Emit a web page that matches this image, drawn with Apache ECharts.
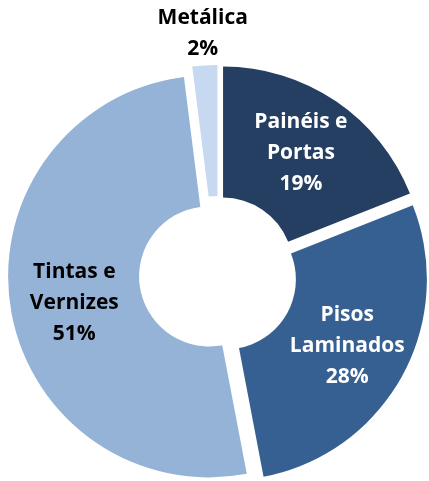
<!DOCTYPE html>
<html lang="pt">
<head>
    <meta charset="UTF-8">
    <title>Segmentos</title>
    <script src="https://cdn.jsdelivr.net/npm/echarts@6/dist/echarts.min.js"></script>
    <style>
        html, body { margin: 0; padding: 0; background: #fff; }
        #main { width: 429px; height: 481px; }
    </style>
</head>
<body>
    <div id="main"></div>
    <script>
        // dados
        var nomes = ['Painéis e\nPortas', 'Pisos\nLaminados', 'Tintas e\nVernizes', 'Metálica'];
        var valores = [19, 28, 51, 2];
        var cores = ['#253F62', '#376092', '#95B3D7', '#C6D9F1'];
        var corTexto = ['#ffffff', '#ffffff', '#000000', '#000000'];

        var dados = [];
        for (var i = 0; i < nomes.length; i++) {
            dados.push({
                name: nomes[i],
                value: valores[i],
                selected: true,
                itemStyle: { color: cores[i] },
                label: { color: corTexto[i] }
            });
        }

        var myChart = echarts.init(document.getElementById('main'));

        var option = {
            animation: false,
            series: [
                {
                    type: 'pie',
                    center: [218, 275],
                    radius: [70, 201],
                    startAngle: 90,
                    clockwise: true,
                    selectedMode: 'multiple',
                    selectedOffset: 9,
                    avoidLabelOverlap: false,
                    emphasis: { disabled: true },
                    select: { itemStyle: { borderWidth: 0 } },
                    label: {
                        show: true,
                        position: 'inside',
                        fontFamily: 'Open Sans',
                        fontWeight: 'bold',
                        fontSize: 21,
                        lineHeight: 31,
                        formatter: function (p) {
                            return p.name + '\n' + p.value + '%';
                        }
                    },
                    labelLine: { show: false },
                    // a fatia pequena tem o rótulo acima do anel
                    labelLayout: function (p) {
                        if (p.dataIndex === 3) {
                            return { dx: -6, dy: -94 };
                        }
                        if (p.dataIndex === 2) {
                            return { dx: 2, dy: 5 };
                        }
                        return {};
                    },
                    data: dados
                }
            ]
        };

        myChart.setOption(option);
    </script>
</body>
</html>
